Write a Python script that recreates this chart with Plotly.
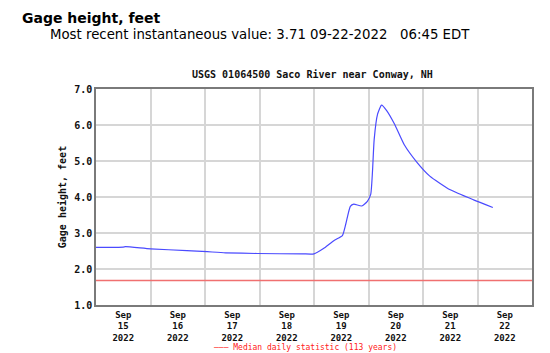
import plotly.graph_objects as go

# Gage height readings (time, feet)
times = [
    "2022-09-15 00:00", "2022-09-15 12:00", "2022-09-15 13:00", "2022-09-16 00:00",
    "2022-09-16 16:00", "2022-09-17 01:00", "2022-09-17 09:00", "2022-09-17 23:00",
    "2022-09-18 19:00", "2022-09-19 00:00", "2022-09-19 04:00", "2022-09-19 09:00",
    "2022-09-19 12:30", "2022-09-19 14:00", "2022-09-19 16:00", "2022-09-19 17:30",
    "2022-09-19 21:00", "2022-09-19 23:30", "2022-09-20 01:00", "2022-09-20 01:45",
    "2022-09-20 02:30", "2022-09-20 04:00", "2022-09-20 05:45", "2022-09-20 08:00",
    "2022-09-20 11:30", "2022-09-20 15:45", "2022-09-20 21:15", "2022-09-21 03:00",
    "2022-09-21 12:00", "2022-09-21 22:15", "2022-09-22 06:45",
]
gage_ft = [
    2.60, 2.61, 2.62, 2.56,
    2.51, 2.48, 2.45, 2.43,
    2.42, 2.42, 2.56, 2.80,
    2.93, 3.25, 3.74, 3.80,
    3.75, 3.88, 4.08, 4.70,
    5.60, 6.30, 6.55, 6.40,
    6.02, 5.45, 4.97, 4.58,
    4.20, 3.92, 3.71,
]

median_times = ["2022-09-15 00:00", "2022-09-23 00:00"]
median_ft = [1.68, 1.68]

day_ticks = ["2022-09-%02d 12:00" % d for d in range(15, 23)]
day_labels = ["<b>Sep<br>%d<br>2022</b>" % d for d in range(15, 23)]
y_ticks = [1, 2, 3, 4, 5, 6, 7]
y_labels = ["<b>%.1f</b>" % v for v in y_ticks]

mono = "DejaVu Sans Mono"
PW, PH = 436, 216

fig = go.Figure()
fig.add_trace(go.Scatter(x=median_times, y=median_ft, mode="lines",
                         line=dict(color="#f07070", width=1.5), hoverinfo="skip"))
fig.add_trace(go.Scatter(x=times, y=gage_ft, mode="lines",
                         line=dict(color="#4a4aff", width=1.2, shape="spline", smoothing=0.5)))

fig.update_layout(
    width=550, height=353,
    margin=dict(l=96, r=18, t=89, b=48),
    paper_bgcolor="white", plot_bgcolor="white",
    showlegend=False,
    xaxis=dict(
        type="date", automargin=False,
        range=["2022-09-15 00:00", "2022-09-23 00:00"],
        tickmode="array", tickvals=day_ticks, ticktext=day_labels,
        showgrid=False, ticks="", ticklabelstandoff=0,
        tickfont=dict(family=mono, size=9, color="#111"),
        showline=True, mirror=True, linecolor="#7a7a7a", linewidth=1.5,
        minor=dict(tickmode="linear", tick0="2022-09-15 00:00", dtick=86400000,
                   showgrid=True, gridcolor="#d6d6d6", gridwidth=1.5, ticks=""),
        zeroline=False,
    ),
    yaxis=dict(
        range=[1, 7], automargin=False,
        tickmode="array", tickvals=y_ticks, ticktext=y_labels,
        showgrid=True, gridcolor="#d6d6d6", gridwidth=1.5,
        tickfont=dict(family=mono, size=10, color="#111"),
        showline=True, mirror=True, linecolor="#7a7a7a", linewidth=1.5,
        ticks="", zeroline=False,
        title=dict(text="<b>Gage height, feet</b>", font=dict(family=mono, size=10, color="#111"), standoff=6),
    ),
    annotations=[
        dict(text="<b>Gage height, feet</b>", xref="paper", yref="paper",
             x=-(96-20)/PW, y=1 + (89-8)/PH, xanchor="left", yanchor="top", showarrow=False,
             font=dict(family="DejaVu Sans", size=14, color="#000")),
        dict(text="Most recent instantaneous value: 3.71 09-22-2022&nbsp;&nbsp;&nbsp;06:45 EDT",
             xref="paper", yref="paper",
             x=-(96-48)/PW, y=1 + (89-25)/PH, xanchor="left", yanchor="top", showarrow=False,
             font=dict(family="DejaVu Sans", size=13.3, color="#000")),
        dict(text="<b>USGS 01064500 Saco River near Conway, NH</b>", xref="paper", yref="paper",
             x=(312-96)/PW, y=1 + (89-67)/PH, xanchor="center", yanchor="top", showarrow=False,
             font=dict(family=mono, size=10, color="#111")),
        dict(text="——— Median daily statistic (113 years)", xref="paper", yref="paper",
             x=(305-96)/PW, y=-(354-305)/PH, xanchor="center", yanchor="bottom", showarrow=False,
             font=dict(family=mono, size=8, color="#ff2020")),
    ],
)

fig.write_html("out.html")
